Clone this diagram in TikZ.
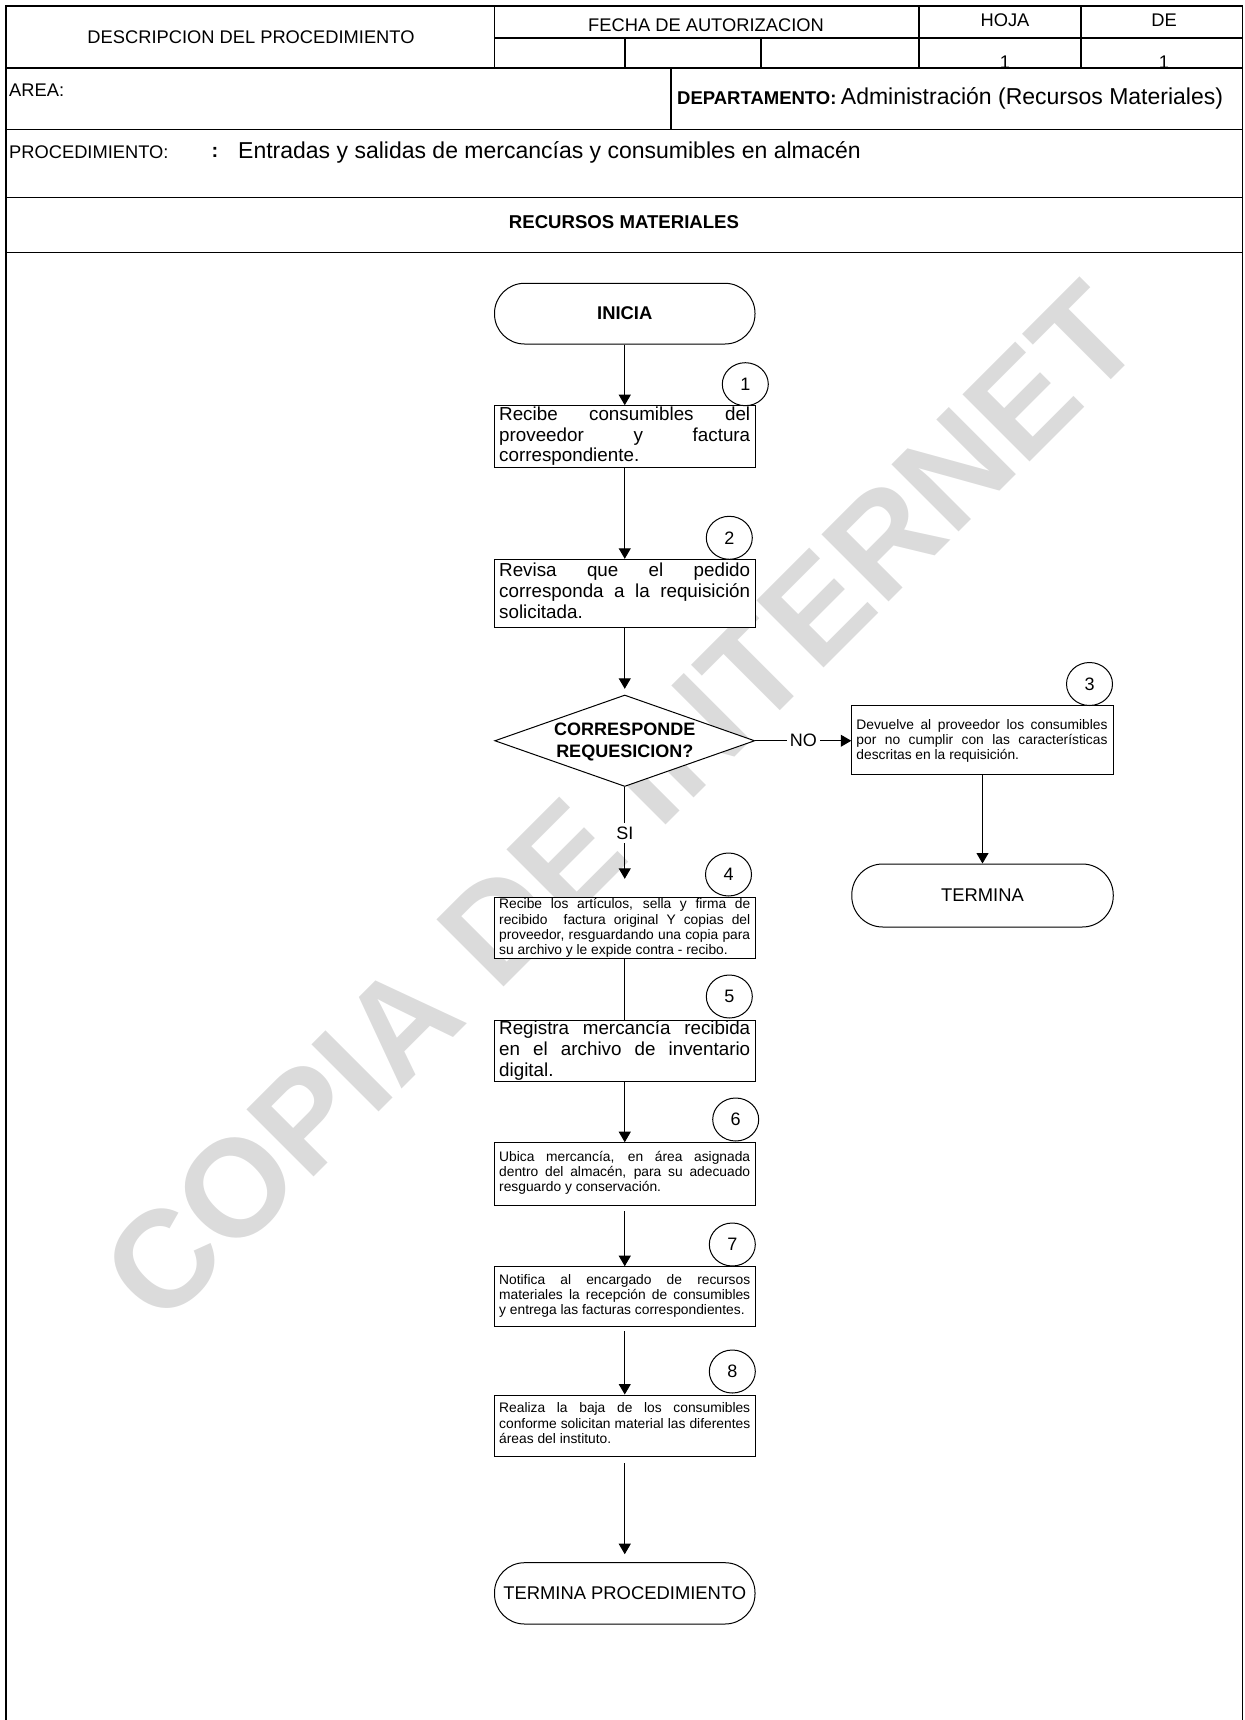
\documentclass[tikz,border=0pt]{standalone}
\usepackage{fontspec}
\setmainfont{Liberation Sans}
\usetikzlibrary{arrows.meta,shapes.geometric,calc}
% the font's own interword glue (TikZ's ragged alignment fixes it)
\newcommand\natsp{\spaceskip=0pt\xspaceskip=0pt\relax}
% one justified line of a flowchart box
\newcommand\jline[1]{\leavevmode\hbox to 251pt{\natsp #1}}

\begin{document}
\begin{tikzpicture}[x=1pt,y=-1pt,
  frame/.style={line width=1.4pt,black},
  txt/.style={inner sep=0pt,font=\fontsize{18.3}{20}\selectfont},
  box/.style={draw,fill=white,line width=1pt,minimum width=260.5pt,inner sep=0pt},
  term/.style={box,rounded corners=30pt,font=\fontsize{18.4}{20}\selectfont},
  decision/.style={diamond,draw,fill=white,line width=1pt,inner sep=0pt,
    minimum width=260pt,minimum height=91.5pt},
  bigtxt/.style={inner sep=0pt,text width=251pt,align=left,
    font=\fontsize{18.8}{20.8}\selectfont},
  smalltxt/.style={inner sep=0pt,text width=251pt,align=left,
    font=\fontsize{13.8}{15.2}\selectfont},
  num/.style={ellipse,draw,fill=white,line width=1pt,minimum width=46pt,
    minimum height=43pt,inner sep=0pt,font=\fontsize{18}{20}\selectfont},
  arr/.style={line width=1pt,-{Triangle[length=10.5pt,width=12pt]}},
  plain/.style={line width=1pt},
  lbl/.style={fill=white,inner xsep=3pt,inner ysep=4pt,font=\fontsize{18}{20}\selectfont}
]
\useasboundingbox (0,0) rectangle (1244,1720);

% watermark behind everything
\node[rotate=45,text=black!14,inner sep=0pt,font=\bfseries\fontsize{138}{138}\selectfont]
  (wm) at (621,803) {COPIA DE INTERNET};

% ---------- header table ----------
\draw[frame] (6,1730) -- (6,6) -- (1242.5,6) -- (1242.5,1730);
\draw[frame] (494.5,6) -- (494.5,68);
\draw[frame] (919,6) -- (919,68);
\draw[frame] (1081,6) -- (1081,68);
\draw[frame] (494.5,38) -- (1242.5,38);
\draw[frame] (625,38) -- (625,68);
\draw[frame] (761,38) -- (761,68);
\draw[frame] (6,68) -- (1242.5,68);
\draw[frame] (671,68) -- (671,129.4);
\draw[frame] (6,129.4) -- (1242.5,129.4);
\draw[frame] (6,197.5) -- (1242.5,197.5);
\draw[frame] (6,252.3) -- (1242.5,252.3);

\node[txt,anchor=base] (tdesc) at (251,44) {DESCRIPCION DEL PROCEDIMIENTO};
\node[txt,anchor=base] (tfecha) at (706,31.5) {FECHA DE AUTORIZACION};
\node[txt,anchor=base] (thoja) at (1005,26.5) {HOJA};
\node[txt,anchor=base] (tde) at (1164,26.5) {DE};
\node[txt,anchor=base] (thojan) at (1005,69) {1};
\node[txt,anchor=base] (tden) at (1164,69) {1};
\node[txt,anchor=base west] (tarea) at (9,96.5) {AREA:};
\node[inner sep=0pt,anchor=base west,font=\bfseries\fontsize{18.5}{20}\selectfont]
  (tdepto) at (677,104.5) {DEPARTAMENTO:};
\node[inner sep=0pt,anchor=base west,font=\fontsize{23}{26}\selectfont]
  (tadmin) at ($(tdepto.base east)+(4,0)$) {Administración (Recursos Materiales)};
\node[txt,anchor=base west] (tproc) at (9,159) {PROCEDIMIENTO:};
\node[inner sep=0pt,anchor=base,font=\bfseries\fontsize{20}{22}\selectfont]
  (tcolon) at (215,158) {:};
\node[inner sep=0pt,anchor=base west,font=\fontsize{23}{26}\selectfont]
  (tprocname) at (238,159) {Entradas y salidas de mercancías y consumibles en almacén};
\node[inner sep=0pt,anchor=base,font=\bfseries\fontsize{18.6}{20}\selectfont]
  (tarearm) at (624,229) {RECURSOS MATERIALES};

% ---------- flowchart shapes ----------
\node[term,minimum height=60.7pt] (inicio) at (624.75,313.65) {\textbf{INICIA}};
\node[box,minimum height=61.6pt] (b1) at (624.75,436.5) {};
\node[box,minimum height=68pt] (b2) at (624.75,593.3) {};
\node[decision] (dec) at (624.75,740.75) {};
\node[box,minimum width=261.5pt,minimum height=69pt] (b3) at (982.5,740) {};
\node[term,minimum width=261.5pt,minimum height=63pt,rounded corners=31pt] (t3) at (982.5,895.5) {TERMINA};
\node[box,minimum height=61.5pt] (b4) at (624.75,928.05) {};
\node[box,minimum height=61.7pt] (b5) at (624.75,1050.85) {};
\node[box,minimum height=62.3pt] (b6) at (624.75,1173.85) {};
\node[box,minimum height=60pt] (b7) at (624.75,1296.7) {};
\node[box,minimum height=61.7pt] (b8) at (624.75,1425.85) {};
\node[term,minimum height=61.3pt] (fin) at (624.75,1593.35) {TERMINA PROCEDIMIENTO};

% step numbers
\node[num] (n1) at (745.3,384.2) {1};
\node[num] (n2) at (729.3,537.8) {2};
\node[num] (n3) at (1089.5,684) {3};
\node[num] (n4) at (728.5,874.5) {4};
\node[num] (n5) at (729.3,996.5) {5};
\node[num] (n6) at (735.7,1119.5) {6};
\node[num] (n7) at (732.3,1244.5) {7};
\node[num] (n8) at (732.3,1371.5) {8};

% ---------- texts ----------
\node[inner sep=0pt,anchor=base,font=\bfseries\fontsize{18}{20}\selectfont]
  (q1) at (624.75,735) {CORRESPONDE};
\node[inner sep=0pt,anchor=base,font=\bfseries\fontsize{18}{20}\selectfont]
  (q2) at (624.75,757.3) {REQUESICION?};

\node[bigtxt,anchor=base west] (x1) at ($(b1.north west)+(5,15)$)
  {\natsp\jline{Recibe consumibles del}\\\jline{proveedor y factura}\\correspondiente.};
\node[bigtxt,anchor=base west] (x2) at ($(b2.north west)+(5,18)$)
  {\natsp\jline{Revisa que el pedido}\\\jline{corresponda a la requisición}\\solicitada.};
\node[smalltxt,anchor=base west] (x3) at ($(b3.north west)+(5,24)$)
  {\natsp\jline{Devuelve al proveedor los consumibles}\\\jline{por no cumplir con las características}\\descritas en la requisición.};
\node[smalltxt,anchor=base west] (x4) at ($(b4.north west)+(5,12)$)
  {\natsp\jline{Recibe los artículos, sella y firma de}\\\jline{recibido\ \ factura original Y copias del}\\\jline{proveedor, resguardando una copia para}\\su archivo y le expide contra - recibo.};
\node[bigtxt,anchor=base west] (x5) at ($(b5.north west)+(5,15)$)
  {\natsp\jline{Registra mercancía recibida}\\\jline{en el archivo de inventario}\\digital.};
\node[smalltxt,anchor=base west] (x6) at ($(b6.north west)+(5,19)$)
  {\natsp\jline{Ubica mercancía, en área asignada}\\\jline{dentro del almacén, para su adecuado}\\resguardo y conservación.};
\node[smalltxt,anchor=base west] (x7) at ($(b7.north west)+(5,18.3)$)
  {\natsp\jline{Notifica al encargado de recursos}\\\jline{materiales la recepción de consumibles}\\y entrega las facturas correspondientes.};
\node[smalltxt,anchor=base west] (x8) at ($(b8.north west)+(5,18.3)$)
  {\natsp\jline{Realiza la baja de los consumibles}\\\jline{conforme solicitan material las diferentes}\\áreas del instituto.};

% ---------- connectors ----------
\draw[arr] (inicio) -- (b1);
\draw[arr] (b1) -- (b2);
\draw[arr,shorten >=5.7pt] (b2) -- (dec);
\draw[arr] (dec.east) -- node[lbl] (lno) {NO} (b3.west |- dec.east);
\draw[arr,shorten >=18pt] (dec) -- node[lbl,pos=0.42] (lsi) {SI} (b4);
\draw[arr] (b3) -- (t3);
\draw[plain] (b4) -- (b5);
\draw[arr] (b5) -- (b6);
\draw[arr,shorten <=5.7pt] (b6) -- (b7);
\draw[arr,shorten <=4pt] (b7) -- (b8);
\draw[arr,shorten <=6pt,shorten >=8pt] (b8) -- (fin);
\end{tikzpicture}
\end{document}
